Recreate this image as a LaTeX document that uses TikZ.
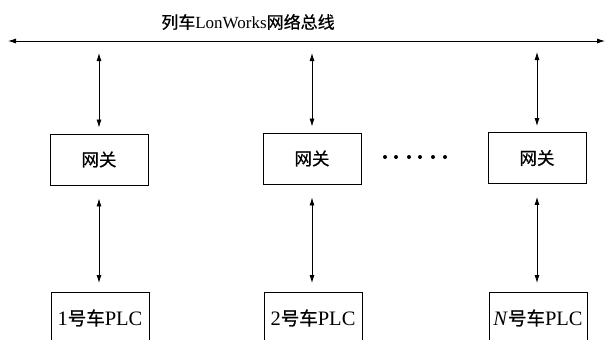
\documentclass[tikz,border=0pt]{standalone}
\usepackage{fontspec}
\setmainfont{Liberation Serif}
\newfontfamily\cjk[FakeBold=0.6]{Noto Sans CJK SC}
\usetikzlibrary{arrows.meta}
\begin{document}
\begin{tikzpicture}[x=1pt,y=-1pt,
  box/.style={draw, line width=0.9pt, minimum width=98pt, minimum height=51pt, inner sep=0pt},
  plcbox/.style={draw, line width=0.9pt, minimum width=98pt, minimum height=60pt, inner sep=0pt, anchor=north},
  link/.style={line width=0.8pt, {Latex[length=8pt,width=5pt]}-{Latex[length=8pt,width=5pt]}}
]
\useasboundingbox (0,0) rectangle (606,340);
% bus
\coordinate (busL) at (8,41);
\coordinate (busR) at (605,41);
\draw[link] (busL) -- (busR);
\node (title) at (248,22) {\fontsize{17}{20}\selectfont{\cjk 列车}LonWorks{\cjk 网络总线}};
% gateways
\node[box] (g1) at (99,159.5) {\fontsize{17.5}{20}\selectfont\cjk 网关};
\node[box] (g2) at (312,158.5) {\fontsize{17.5}{20}\selectfont\cjk 网关};
\node[box] (g3) at (537,158) {\fontsize{17.5}{20}\selectfont\cjk 网关};
% plc boxes
\node[plcbox] (p1) at (100,292) {};
\node (t1) at (100,318) {\fontsize{20.5}{23}\selectfont 1{\cjk\fontsize{18.5}{21}\selectfont 号车}PLC};
\node[plcbox] (p2) at (313,292) {};
\node (t2) at (313,318) {\fontsize{20.5}{23}\selectfont 2{\cjk\fontsize{18.5}{21}\selectfont 号车}PLC};
\node[plcbox] (p3) at (538,292) {};
\node (t3) at (538,318) {\fontsize{20.5}{23}\selectfont\textit{N}{\cjk\fontsize{18.5}{21}\selectfont 号车}PLC};
% bus taps
\coordinate (b1) at (99,53);
\coordinate (b2) at (312,53);
\coordinate (b3) at (537,52);
\draw[link, shorten >=6pt] (b1) -- (g1.north);
\draw[link, shorten >=6pt] (b2) -- (g2.north);
\draw[link, shorten >=6pt] (b3) -- (g3.north);
% gateway to PLC
\draw[link, shorten <=13pt, shorten >=9pt] (g1.south) -- (g1.south |- p1.north);
\draw[link, shorten <=13pt, shorten >=9pt] (g2.south) -- (g2.south |- p2.north);
\draw[link, shorten <=13pt, shorten >=9pt] (g3.south) -- (g3.south |- p3.north);
% dots
\foreach \x in {385,396,409,420,433,445} \fill (\x,157) circle (2pt);
\end{tikzpicture}
\end{document}
